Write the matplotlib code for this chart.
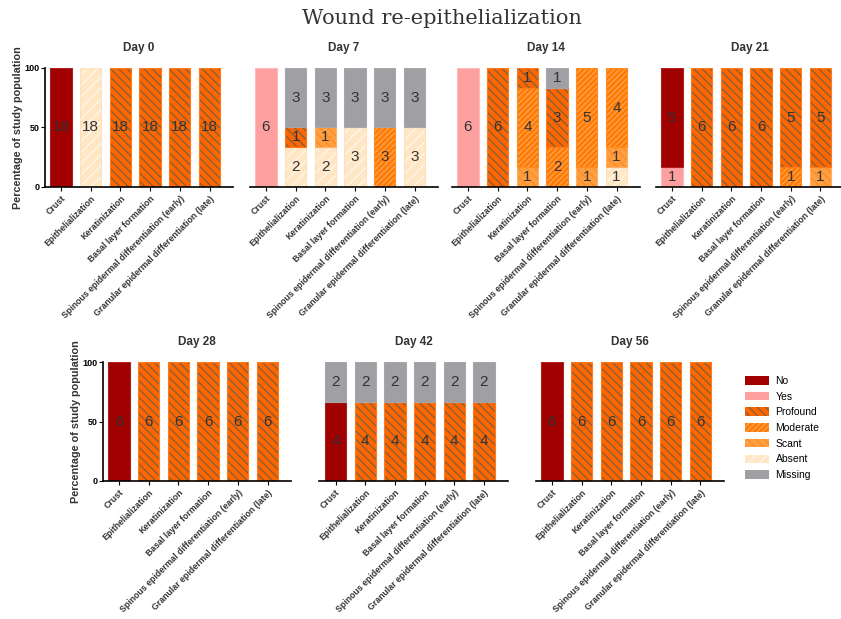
import numpy as np
import matplotlib
matplotlib.use("Agg")
import matplotlib.pyplot as plt
from matplotlib.patches import Patch

plt.rcParams['font.family'] = ['Liberation Sans', 'DejaVu Sans']
plt.rcParams['hatch.linewidth'] = 1.0

# Data: counts per day (rows) and per parameter (columns)
days = ["Day 0", "Day 7", "Day 14", "Day 21", "Day 28", "Day 42", "Day 56"]
params = ["Crust", "Epithelialization", "Keratinization", "Basal layer formation",
          "Spinous epidermal differentiation (early)",
          "Granular epidermal differentiation (late)"]

yes = [[0, 0, 0, 0, 0, 0], [6, 0, 0, 0, 0, 0], [6, 0, 0, 0, 0, 0], [1, 0, 0, 0, 0, 0],
       [0, 0, 0, 0, 0, 0], [0, 0, 0, 0, 0, 0], [0, 0, 0, 0, 0, 0]]
no = [[18, 0, 0, 0, 0, 0], [0, 0, 0, 0, 0, 0], [0, 0, 0, 0, 0, 0], [5, 0, 0, 0, 0, 0],
      [6, 0, 0, 0, 0, 0], [4, 0, 0, 0, 0, 0], [6, 0, 0, 0, 0, 0]]
absent = [[0, 18, 0, 0, 0, 0], [0, 2, 2, 3, 0, 3], [0, 0, 0, 0, 0, 1], [0, 0, 0, 0, 0, 0],
          [0, 0, 0, 0, 0, 0], [0, 0, 0, 0, 0, 0], [0, 0, 0, 0, 0, 0]]
scant = [[0, 0, 0, 0, 0, 0], [0, 0, 1, 0, 0, 0], [0, 0, 1, 0, 1, 1], [0, 0, 0, 0, 0, 1],
         [0, 0, 0, 0, 0, 0], [0, 0, 0, 0, 0, 0], [0, 0, 0, 0, 0, 0]]
moderate = [[0, 0, 0, 0, 0, 0], [0, 0, 0, 0, 3, 0], [0, 0, 4, 2, 5, 4], [0, 0, 0, 0, 1, 0],
            [0, 0, 0, 0, 0, 0], [0, 0, 0, 0, 0, 0], [0, 0, 0, 0, 0, 0]]
profound = [[0, 0, 18, 18, 18, 18], [0, 1, 0, 0, 0, 0], [0, 6, 1, 3, 0, 0], [0, 6, 6, 6, 5, 5],
            [0, 6, 6, 6, 6, 6], [0, 4, 4, 4, 4, 4], [0, 6, 6, 6, 6, 6]]
missing = [[0, 0, 0, 0, 0, 0], [0, 3, 3, 3, 3, 3], [0, 0, 0, 1, 0, 0], [0, 0, 0, 0, 0, 0],
           [0, 0, 0, 0, 0, 0], [2, 2, 2, 2, 2, 2], [0, 0, 0, 0, 0, 0]]

# stacking order bottom -> top, with style: face, hatch, hatch colour, border
series = [
    ("Yes", yes, "#FFA0A0", None, "#FFA0A0", "#FFB8B8"),
    ("No", no, "#A00000", None, "#A00000", "#B02020"),
    ("Absent", absent, "#FFE6C4", "///", "#FFF6EA", "#FFE0B8"),
    ("Scant", scant, "#FFA040", "\\\\\\\\", "#FF8A2A", "#FFB060"),
    ("Moderate", moderate, "#FF7A00", "//////", "#FFA050", "#FF8C20"),
    ("Profound", profound, "#FF6600", "\\\\\\\\", "#86603A", "#FF7A1A"),
    ("Missing", missing, "#A0A0A4", None, "#A0A0A4", "#A8A8AC"),
]

W, H = 841, 619
fig = plt.figure(figsize=(W / 100, H / 100), dpi=100)

fig.text(442 / W, 1 - 19 / H, "Wound re-epithelialization", ha='center', va='center',
         fontsize=15, family='DejaVu Serif', color='#333333')

# first bar centre (px) of each panel and top of y axis (px)
centres = [61, 266, 468, 672, 119, 335.5, 552]
tops = [68, 68, 68, 68, 362, 362, 362]
unit = 29.7
x0, x1 = -0.54, 5.8
ph = 119

x = np.arange(len(params))
for d, day in enumerate(days):
    left = centres[d] + x0 * unit
    ax = fig.add_axes([left / W, 1 - (tops[d] + ph) / H, (x1 - x0) * unit / W, ph / H])
    totals = np.zeros(len(params))
    for name, data, face, hatch, hcol, border in series:
        totals += np.array(data[d])
    bottom = np.zeros(len(params))
    for name, data, face, hatch, hcol, border in series:
        cnt = np.array(data[d], dtype=float)
        pct = cnt / totals * 100
        k = cnt > 0
        if k.any():
            ax.bar(x[k], pct[k], 0.72, bottom=bottom[k], color=face, hatch=hatch,
                   edgecolor=hcol, linewidth=0)
            ax.bar(x[k], pct[k], 0.72, bottom=bottom[k], fill=False, edgecolor=border,
                   linewidth=0.8)
        for i in range(len(params)):
            if cnt[i] > 0:
                ax.text(x[i], bottom[i] + pct[i] / 2, str(int(cnt[i])), ha='center', va='center',
                        fontsize=11, color='#333333')
        bottom += pct
    ax.set_xlim(x0, x1)
    ax.set_ylim(0, 100)
    ax.set_title(day, fontsize=8.5, fontweight='bold', color='#333333', pad=12)
    for s in ['top', 'right']:
        ax.spines[s].set_visible(False)
    ax.spines['bottom'].set_linewidth(1.2)
    ax.set_xticks(x)
    ax.set_xticklabels(params, rotation=45, ha='right', rotation_mode='anchor',
                       fontsize=6.3, fontweight='bold', color='#333333')
    ax.tick_params(axis='x', length=3, width=0.8, pad=2)
    if d in (0, 4):
        ax.spines['left'].set_linewidth(1.2)
        ax.set_yticks([0, 50, 100])
        ax.tick_params(axis='y', labelsize=6.5, length=3, width=0.8, pad=1)
        for lab in ax.get_yticklabels():
            lab.set_fontweight('bold')
        ax.set_ylabel("Percentage of study population", fontsize=7.8, fontweight='bold',
                      color='#333333', labelpad=1)
    else:
        ax.spines['left'].set_visible(False)
        ax.set_yticks([])

# legend
handles = []
for name in ["No", "Yes", "Profound", "Moderate", "Scant", "Absent", "Missing"]:
    for s in series:
        if s[0] == name:
            handles.append(Patch(facecolor=s[2], hatch=s[3], edgecolor=s[4], linewidth=0, label=name))
fig.legend(handles=handles, loc='center left', bbox_to_anchor=(736 / W, 1 - 428 / H),
           frameon=False, fontsize=7.5, handlelength=2.3, handleheight=0.9,
           labelspacing=0.55, handletextpad=0.6)

fig.savefig("out.png", dpi=100)
